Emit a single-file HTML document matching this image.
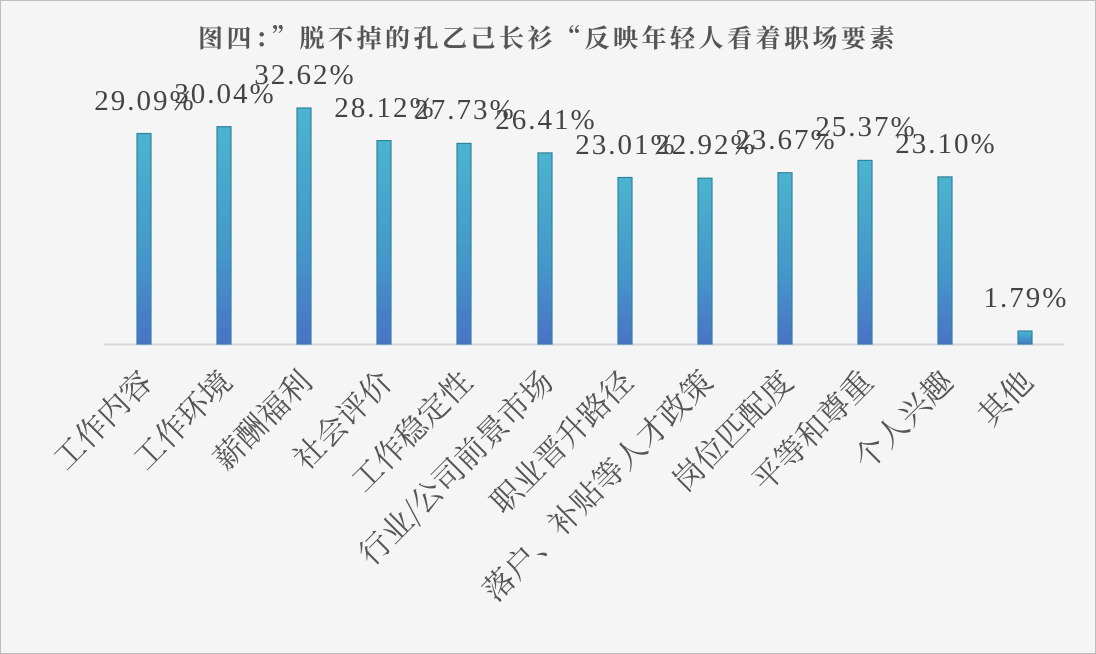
<!DOCTYPE html>
<html><head><meta charset="utf-8"><style>
html,body{margin:0;padding:0;background:#fff}
svg{display:block}
</style></head><body>
<svg width="1096" height="654" xmlns="http://www.w3.org/2000/svg">
<defs>
<linearGradient id="g" x1="0" y1="0" x2="0" y2="1">
<stop offset="0" stop-color="#4bb4cf"/><stop offset="0.6" stop-color="#4596c9"/><stop offset="1" stop-color="#4a72c8"/>
</linearGradient>
</defs>
<rect x="0.5" y="0.5" width="1095" height="653" fill="#f5f5f5" stroke="#bdbdbd"/>
<text x="548" y="47" text-anchor="middle" font-family="'Noto Serif CJK SC', serif" font-weight="bold" font-size="25" letter-spacing="3.5" fill="#555">图四：”脱不掉的孔乙己长衫“反映年轻人看着职场要素</text>
<line x1="104" y1="344.5" x2="1064" y2="344.5" stroke="#d6d6d6" stroke-width="2"/>
<g fill="url(#g)" stroke="#2f84a0" stroke-width="1.2">
<rect x="137" y="133.5" width="14" height="210.5"/>
<rect x="217" y="126.7" width="14" height="217.3"/>
<rect x="297" y="108" width="14" height="236"/>
<rect x="377" y="140.6" width="14" height="203.4"/>
<rect x="457" y="143.4" width="14" height="200.6"/>
<rect x="538" y="152.9" width="14" height="191.1"/>
<rect x="618" y="177.5" width="14" height="166.5"/>
<rect x="698" y="178.2" width="14" height="165.8"/>
<rect x="778" y="172.7" width="14" height="171.3"/>
<rect x="858" y="160.4" width="14" height="183.6"/>
<rect x="938" y="176.9" width="14" height="167.1"/>
<rect x="1018" y="331" width="14" height="13"/>
</g>
<g font-family="'Liberation Serif', serif" font-size="29" letter-spacing="2" fill="#444" text-anchor="middle">
<text x="145" y="110">29.09%</text>
<text x="225" y="103">30.04%</text>
<text x="305" y="84">32.62%</text>
<text x="385" y="117">28.12%</text>
<text x="465" y="119">27.73%</text>
<text x="546" y="129">26.41%</text>
<text x="626" y="154">23.01%</text>
<text x="706" y="154">22.92%</text>
<text x="786" y="149">23.67%</text>
<text x="866" y="136">25.37%</text>
<text x="946" y="153">23.10%</text>
<text x="1026" y="307">1.79%</text>
</g>
<g font-family="'Noto Serif CJK SC', serif" font-size="31" fill="#555" text-anchor="end">
<text transform="translate(154,384) rotate(-45)">工作内容</text>
<text transform="translate(234,384) rotate(-45)">工作环境</text>
<text transform="translate(314,384) rotate(-45)">薪酬福利</text>
<text transform="translate(394,384) rotate(-45)">社会评价</text>
<text transform="translate(474,384) rotate(-45)">工作稳定性</text>
<text transform="translate(555,384) rotate(-45)">行业/公司前景市场</text>
<text transform="translate(635,384) rotate(-45)">职业晋升路径</text>
<text transform="translate(715,384) rotate(-45)">落户、补贴等人才政策</text>
<text transform="translate(795,384) rotate(-45)">岗位匹配度</text>
<text transform="translate(875,384) rotate(-45)">平等和尊重</text>
<text transform="translate(955,384) rotate(-45)">个人兴趣</text>
<text transform="translate(1035,384) rotate(-45)">其他</text>
</g>
</svg>
</body></html>
